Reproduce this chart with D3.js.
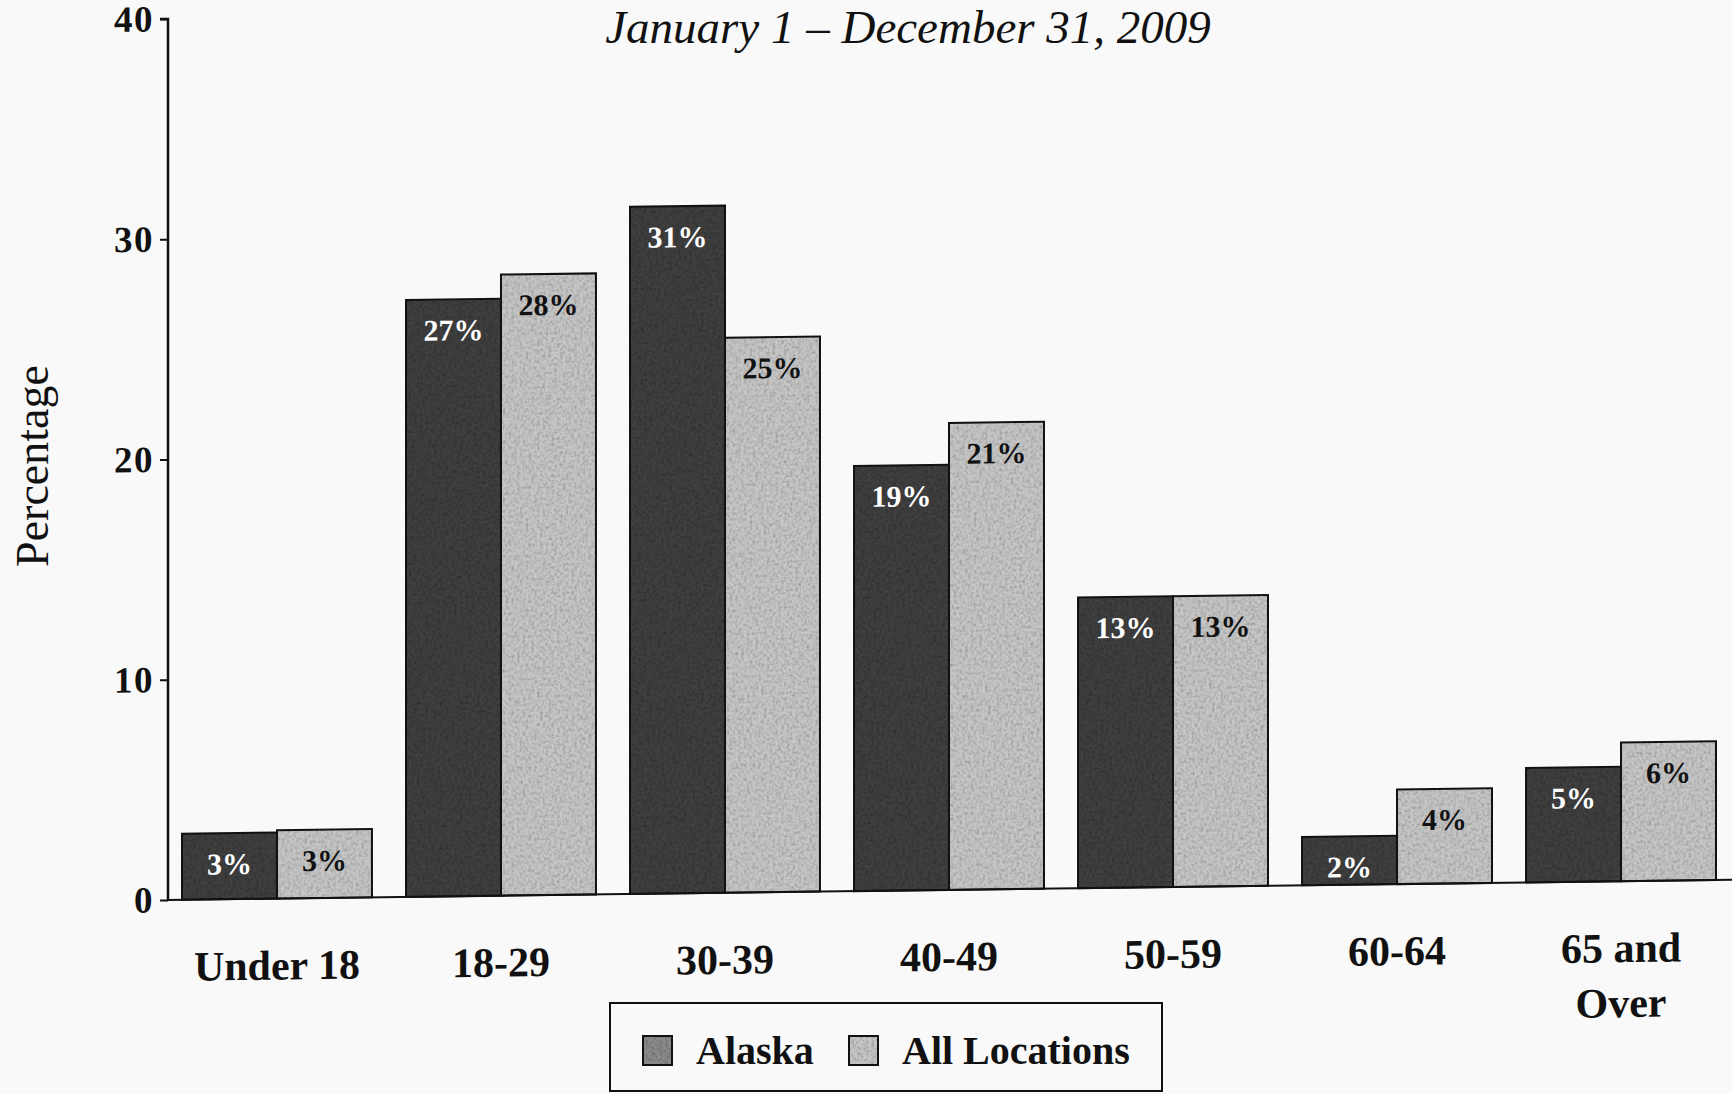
<!DOCTYPE html>
<html>
<head>
<meta charset="utf-8">
<script src="https://cdn.jsdelivr.net/npm/d3@7"></script>
<style>
  body { margin: 0; background: #f9f9f9; }
  svg { display: block; font-family: "Liberation Serif", "Times New Roman", serif; }
</style>
</head>
<body>
<div id="chart"></div>
<script>
const categories = ['Under 18', '18-29', '30-39', '40-49', '50-59', '60-64', '65 and Over'];
const seriesNames = ['Alaska', 'All Locations'];
const alaska = [3.0, 27.1, 31.2, 19.3, 13.2, 2.2, 5.2];
const allLocations = [3.1, 28.2, 25.2, 21.2, 13.2, 4.3, 6.3];
const alaskaLabels = ['3%', '27%', '31%', '19%', '13%', '2%', '5%'];
const allLabels = ['3%', '28%', '25%', '21%', '13%', '4%', '6%'];
const yTicks = [0, 10, 20, 30, 40];

const width = 1732, height = 1094;
const fills = { 'Alaska': '#404040', 'All Locations': '#c6c6c6' };
const textFills = { 'Alaska': '#ffffff', 'All Locations': '#111111' };

const svg = d3.select('#chart').append('svg')
  .attr('width', width).attr('height', height);

// grainy print look for the bars
const filt = svg.append('defs').append('filter').attr('id', 'grain')
  .attr('x', 0).attr('y', 0).attr('width', 1).attr('height', 1);
filt.append('feTurbulence').attr('type', 'fractalNoise')
  .attr('baseFrequency', 0.35).attr('numOctaves', 2).attr('seed', 4).attr('result', 'noise');
filt.append('feColorMatrix').attr('in', 'noise').attr('type', 'matrix')
  .attr('values', '0 0 0 0 0  0 0 0 0 0  0 0 0 0 0  0 0 0 -0.9 0.55')
  .attr('result', 'dots');
filt.append('feComposite').attr('in', 'dots').attr('in2', 'SourceGraphic')
  .attr('operator', 'in').attr('result', 'dotsIn');
const merge = filt.append('feMerge');
merge.append('feMergeNode').attr('in', 'SourceGraphic');
merge.append('feMergeNode').attr('in', 'dotsIn');

svg.append('rect').attr('width', width).attr('height', height).attr('fill', '#f9f9f9');

// title (clipped at the top in the scan, kept whole here)
svg.append('text')
  .attr('x', 908).attr('y', 43)
  .attr('text-anchor', 'middle')
  .attr('font-size', 47).attr('font-style', 'italic')
  .attr('fill', '#111')
  .text('January 1 \u2013 December 31, 2009');

const plotLeft = 168, plotBottom = 900, plotTop = 19;

// the scan is slightly skewed, the right side sits higher
const g = svg.append('g')
  .attr('transform', `translate(${plotLeft},${plotBottom}) skewY(-0.74) translate(${-plotLeft},${-plotBottom})`);

const x = d3.scaleBand().domain(categories).range([plotLeft, 1730])
  .paddingInner(0.152).paddingOuter(0.0625);
const xs = d3.scaleBand().domain(seriesNames).range([0, x.bandwidth()]);
const y = d3.scaleLinear().domain([0, 40]).range([plotBottom, plotTop]);

const rows = categories.map((c, i) => ({
  cat: c,
  bars: [
    { s: 'Alaska', v: alaska[i], label: alaskaLabels[i] },
    { s: 'All Locations', v: allLocations[i], label: allLabels[i] }
  ]
}));

const grp = g.selectAll('g.cat').data(rows).enter().append('g')
  .attr('class', 'cat')
  .attr('transform', d => `translate(${x(d.cat)},0)`);

grp.selectAll('rect').data(d => d.bars).enter().append('rect')
  .attr('x', d => xs(d.s))
  .attr('y', d => y(d.v))
  .attr('width', xs.bandwidth())
  .attr('height', d => y(0) - y(d.v))
  .attr('fill', d => fills[d.s])
  .attr('filter', 'url(#grain)');

grp.selectAll('rect.edge').data(d => d.bars).enter().append('rect')
  .attr('class', 'edge')
  .attr('x', d => xs(d.s))
  .attr('y', d => y(d.v))
  .attr('width', xs.bandwidth())
  .attr('height', d => y(0) - y(d.v))
  .attr('fill', 'none')
  .attr('stroke', '#111')
  .attr('stroke-width', 2);

grp.selectAll('text.val').data(d => d.bars).enter().append('text')
  .attr('class', 'val')
  .attr('x', d => xs(d.s) + xs.bandwidth() / 2)
  .attr('y', d => y(d.v) + 41)
  .attr('text-anchor', 'middle')
  .attr('font-size', 30).attr('font-weight', 'bold')
  .attr('fill', d => textFills[d.s])
  .text(d => d.label);

// y axis
const yAxis = g.append('g')
  .attr('transform', `translate(${plotLeft},0)`)
  .call(d3.axisLeft(y).tickValues(yTicks).tickSize(8).tickPadding(6));
yAxis.select('.domain').attr('stroke', '#111').attr('stroke-width', 2.5)
  .attr('d', `M-8,${plotTop}H0V${plotBottom}`);
yAxis.selectAll('.tick line').attr('stroke', '#111').attr('stroke-width', 2);
yAxis.selectAll('.tick text')
  .attr('font-family', '"Liberation Serif", serif')
  .attr('font-size', 37).attr('font-weight', 'bold').attr('letter-spacing', 1.5)
  .attr('fill', '#111');

// baseline
g.append('line')
  .attr('x1', plotLeft).attr('x2', width)
  .attr('y1', y(0)).attr('y2', y(0))
  .attr('stroke', '#111').attr('stroke-width', 2);

// category labels
const catText = g.selectAll('text.cat').data(categories).enter().append('text')
  .attr('class', 'cat')
  .attr('x', d => x(d) + x.bandwidth() / 2)
  .attr('y', 981)
  .attr('text-anchor', 'middle')
  .attr('font-size', 42).attr('font-weight', 'bold').attr('fill', '#111');
catText.each(function (d) {
  const t = d3.select(this);
  if (d === '65 and Over') {
    t.append('tspan').attr('x', x(d) + x.bandwidth() / 2).text('65 and');
    t.append('tspan').attr('x', x(d) + x.bandwidth() / 2).attr('dy', 55).text('Over');
  } else {
    t.text(d);
  }
});

// y label
svg.append('text')
  .attr('transform', 'translate(48,466) rotate(-90)')
  .attr('text-anchor', 'middle')
  .attr('font-size', 46).attr('fill', '#111')
  .text('Percentage');

// legend
const legend = svg.append('g');
legend.append('rect')
  .attr('x', 610).attr('y', 1003).attr('width', 552).attr('height', 88)
  .attr('fill', 'none').attr('stroke', '#111').attr('stroke-width', 2);
const legendX = [643, 849];
const items = legend.selectAll('g.item').data(seriesNames).enter().append('g')
  .attr('transform', (d, i) => `translate(${legendX[i]},1036)`);
items.append('rect')
  .attr('width', 29).attr('height', 29)
  .attr('fill', d => d === 'Alaska' ? '#8a8a8a' : '#c6c6c6')
  .attr('filter', 'url(#grain)');
items.append('rect')
  .attr('width', 29).attr('height', 29)
  .attr('fill', 'none')
  .attr('stroke', '#111').attr('stroke-width', 2);
items.append('text')
  .attr('x', 53).attr('y', 28)
  .attr('font-size', 40).attr('font-weight', 'bold').attr('fill', '#111')
  .text(d => d);
</script>
</body>
</html>
